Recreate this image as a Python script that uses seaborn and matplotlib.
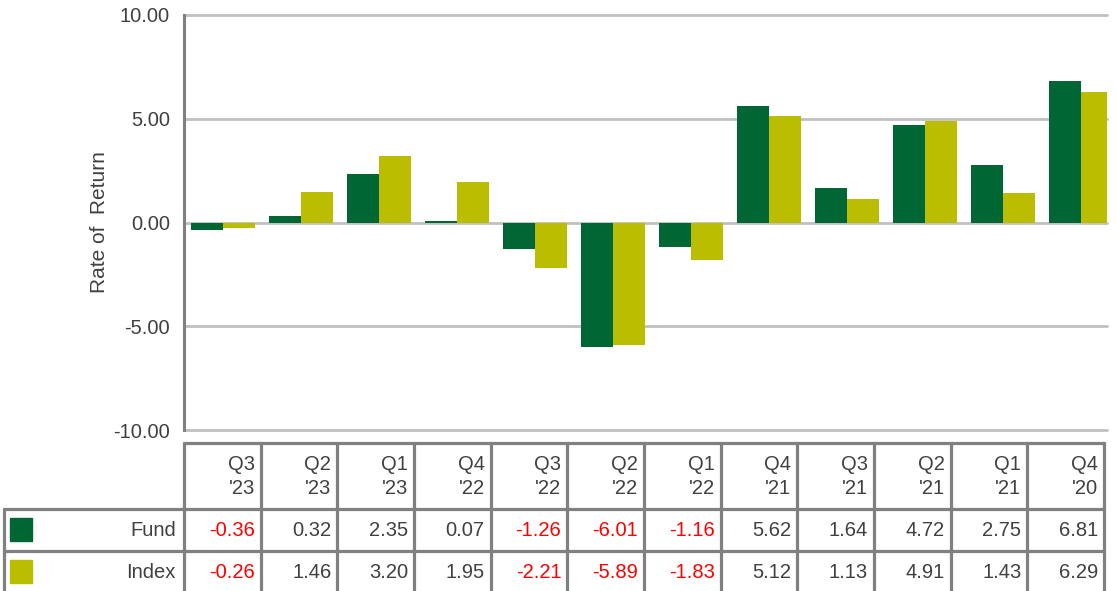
import numpy as np
import pandas as pd
import seaborn as sns
import matplotlib
matplotlib.use("Agg")
from matplotlib import pyplot as plt
from matplotlib.patches import Rectangle

quarters = ["Q3\n'23", "Q2\n'23", "Q1\n'23", "Q4\n'22", "Q3\n'22", "Q2\n'22",
            "Q1\n'22", "Q4\n'21", "Q3\n'21", "Q2\n'21", "Q1\n'21", "Q4\n'20"]
fund = [-0.36, 0.32, 2.35, 0.07, -1.26, -6.01, -1.16, 5.62, 1.64, 4.72, 2.75, 6.81]
index = [-0.26, 1.46, 3.20, 1.95, -2.21, -5.89, -1.83, 5.12, 1.13, 4.91, 1.43, 6.29]
series_names = ["Fund", "Index"]
yticks = [-10, -5, 0, 5, 10]

colors = {"Fund": "#006633", "Index": "#BBBD00"}
txt = "#404040"
grid_c = "#C0C0C0"
line_c = "#808080"

df = pd.DataFrame({
    "Quarter": quarters * 2,
    "Series": ["Fund"] * len(fund) + ["Index"] * len(index),
    "Return": fund + index,
})

sns.set_theme(style="white")
plt.rcParams["font.family"] = ["Liberation Sans", "DejaVu Sans"]

W, H = 1116, 591
fig = plt.figure(figsize=(W / 100, H / 100), dpi=100)

# plot area in pixels
px0, px1, py0, py1 = 184, 1107, 15, 430
ax = fig.add_axes([px0 / W, 1 - py1 / H, (px1 - px0) / W, (py1 - py0) / H])

sns.barplot(data=df, x="Quarter", y="Return", hue="Series", order=quarters,
            hue_order=series_names, palette=colors, saturation=1,
            width=0.82, dodge=True, legend=False, ax=ax, zorder=3,
            linewidth=0)

cat_w = 78.0
ax.set_xlim(-0.5, -0.5 + (px1 - px0) / cat_w)
ax.set_ylim(-10, 10)
ax.set_yticks(yticks)
ax.set_yticklabels([f"{v:.2f}" for v in yticks], color=txt, fontsize=14.5)
ax.set_xticks([])
ax.set_xlabel("")
ax.set_ylabel("Rate of  Return", color=txt, fontsize=15, labelpad=3)
ax.tick_params(axis="y", length=0, pad=10)
for v in yticks:
    ax.axhline(v, color=grid_c, lw=2, zorder=1, clip_on=False)
for s in ["top", "right", "bottom"]:
    ax.spines[s].set_visible(False)
ax.spines["left"].set_color(line_c)
ax.spines["left"].set_linewidth(2.2)
ax.spines["left"].set_zorder(5)

# table drawn in pixel coordinates below the chart
tb = fig.add_axes([0, 0, 1, 1], zorder=-1)
tb.set_xlim(0, W)
tb.set_ylim(H, 0)
tb.axis("off")

t_left, t_right = 4, 1104
y_top, y_head, y_fund, y_idx = 443, 509, 551, 600
col_edges = np.linspace(px0, t_right, len(quarters) + 1)
lw = 2.3

# horizontal lines
tb.plot([px0, t_right], [y_top, y_top], color=line_c, lw=lw)
tb.plot([t_left, t_right], [y_head, y_head], color=line_c, lw=lw)
tb.plot([t_left, t_right], [y_fund, y_fund], color=line_c, lw=lw)
# vertical lines
for xe in col_edges:
    tb.plot([xe, xe], [y_top, y_idx], color=line_c, lw=lw)
tb.plot([t_left, t_left], [y_head, y_idx], color=line_c, lw=lw)

fs = 14.5
for i, q in enumerate(quarters):
    xr = col_edges[i + 1] - 6
    top, bot = q.split("\n")
    tb.text(xr, 464, top, ha="right", va="center", color=txt, fontsize=fs)
    tb.text(xr, 488, bot, ha="right", va="center", color=txt, fontsize=fs)
    for vals, yc in [(fund, 530), (index, 572)]:
        v = vals[i]
        tb.text(xr, yc, f"{v:.2f}", ha="right", va="center", fontsize=fs,
                color="#FF0000" if v < 0 else txt)

for name, yc in [("Fund", 530), ("Index", 572)]:
    tb.add_patch(Rectangle((10, yc - 12), 22, 23, color=colors[name]))
    tb.text(px0 - 8, yc, name, ha="right", va="center", color=txt, fontsize=fs)

fig.savefig("out.png", dpi=100)
